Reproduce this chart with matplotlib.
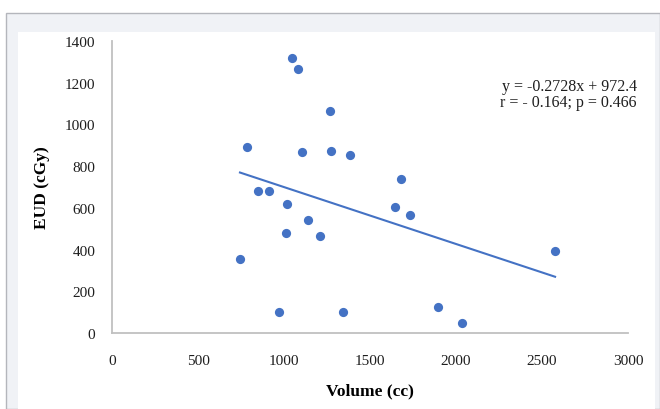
import matplotlib
matplotlib.use('Agg')
import matplotlib.pyplot as plt
from matplotlib.patches import Rectangle

plt.rcParams['font.family'] = ['Liberation Serif', 'DejaVu Serif']

# Data
volume = [744, 783, 849, 911, 971, 1016, 1014, 1048, 1083, 1106, 1141,
          1207, 1269, 1271, 1341, 1382, 1647, 1678, 1735, 1894, 2037, 2576]
eud = [354, 893, 680, 680, 102, 619, 478, 1320, 1265, 866, 540,
       463, 1063, 875, 102, 853, 606, 737, 568, 125, 48, 391]
slope, intercept = -0.2728, 972.4
fit_text = "y = -0.2728x + 972.4\nr = - 0.164; p = 0.466"

blue = '#4472C4'

fig = plt.figure(figsize=(6.6, 4.1), dpi=100)
fig.patch.set_facecolor('white')

# outer frame and white plot panel (pixel coords -> figure fractions)
W, H = 660, 410
fig.patches.append(Rectangle((6 / W, 0), (W - 6) / W, (H - 14) / H,
                             transform=fig.transFigure, facecolor='#f0f2f6',
                             edgecolor='#b4b6bc', linewidth=1.0, zorder=-10))
fig.patches.append(Rectangle((18 / W, 0), (655 - 18) / W, (H - 33) / H,
                             transform=fig.transFigure, facecolor='white',
                             edgecolor='none', zorder=-9))

ax = fig.add_axes([112 / W, (H - 334) / H, (628 - 112) / W, (334 - 42) / H])
ax.set_facecolor('none')

ax.scatter(volume, eud, s=44, color=blue, zorder=3, linewidths=0)

x0, x1 = min(volume), max(volume)
ax.plot([x0, x1], [slope * x0 + intercept, slope * x1 + intercept],
        color=blue, linewidth=1.5, zorder=2)

ax.set_xlim(0, 3000)
ax.set_ylim(0, 1400)
ax.set_xticks(range(0, 3001, 500))
ax.set_yticks(range(0, 1401, 200))

for side in ['top', 'right']:
    ax.spines[side].set_visible(False)
for side in ['left', 'bottom']:
    ax.spines[side].set_color('#c0c0c0')
    ax.spines[side].set_linewidth(1.3)

ax.tick_params(axis='both', length=0, labelsize=11, colors='#1e1e1e')
ax.tick_params(axis='y', pad=12)
ax.tick_params(axis='x', pad=15)

ax.set_xlabel('Volume (cc)', fontsize=12.5, fontweight='bold', labelpad=11)
ax.set_ylabel('EUD (cGy)', fontsize=12.5, fontweight='bold', labelpad=11)

ax.text(1.017, 0.875, fit_text, transform=ax.transAxes, ha='right', va='top',
        fontsize=11.5, linespacing=1.08, color='#1e1e1e')

fig.savefig('out.png', dpi=100)
